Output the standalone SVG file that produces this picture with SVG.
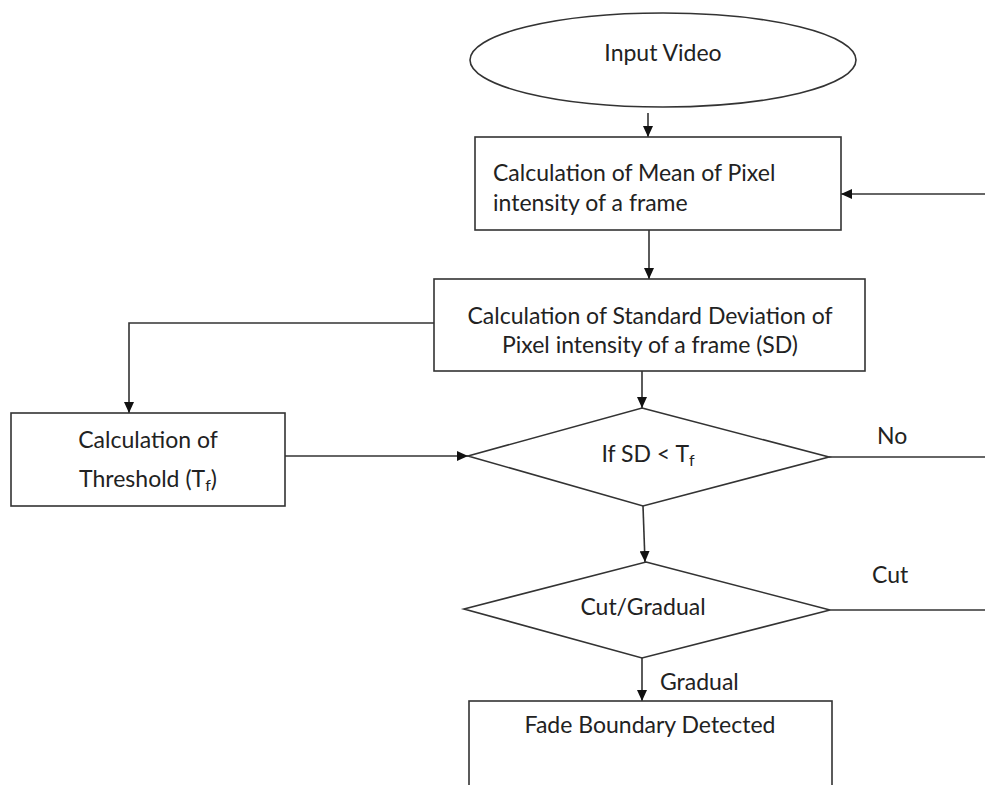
<svg xmlns="http://www.w3.org/2000/svg" width="985" height="785" viewBox="0 0 985 785">
<style>
.shape{fill:#fff;stroke:#333;stroke-width:1.6}
.conn{fill:none;stroke:#333;stroke-width:1.6}
text{font-family:Lato,"Open Sans","Liberation Sans",sans-serif;font-size:23px;fill:#222}
.c{text-anchor:middle}
.sub{font-size:16px}
</style>
<defs>
<marker id="arr" markerUnits="userSpaceOnUse" markerWidth="12" markerHeight="10" refX="11" refY="5" orient="auto">
<path d="M0,0 L11,5 L0,10 z" fill="#111"/>
</marker>
</defs>
<rect width="985" height="785" fill="#fff"/>
<g id="connectors">
<line class="conn" x1="648" y1="113" x2="648" y2="137" marker-end="url(#arr)"/>
<line class="conn" x1="649" y1="230" x2="649" y2="279" marker-end="url(#arr)"/>
<line class="conn" x1="642" y1="371" x2="642" y2="408" marker-end="url(#arr)"/>
<polyline class="conn" points="434,323 129,323 129,413" marker-end="url(#arr)"/>
<line class="conn" x1="285" y1="456" x2="468" y2="456" marker-end="url(#arr)"/>
<line class="conn" x1="643" y1="506" x2="645" y2="562" marker-end="url(#arr)"/>
<line class="conn" x1="829" y1="457" x2="985" y2="457"/>
<line class="conn" x1="830" y1="610" x2="985" y2="610"/>
<line class="conn" x1="642" y1="658" x2="642" y2="701" marker-end="url(#arr)"/>
<line class="conn" x1="985" y1="194" x2="841" y2="194" marker-end="url(#arr)"/>
<text x="877" y="444">No</text>
<text x="872" y="583">Cut</text>
<text x="660" y="690">Gradual</text>
</g>
<g id="input-video">
<ellipse class="shape" cx="663" cy="60" rx="193" ry="47"/>
<text class="c" x="663" y="61">Input Video</text>
</g>
<g id="mean-box">
<rect class="shape" x="475" y="137" width="366" height="93"/>
<text x="493" y="181">Calculation of Mean of Pixel</text>
<text x="493" y="211">intensity of a frame</text>
</g>
<g id="sd-box">
<rect class="shape" x="434" y="279" width="431" height="92"/>
<text class="c" x="650" y="324">Calculation of Standard Deviation of</text>
<text class="c" x="650" y="353">Pixel intensity of a frame (SD)</text>
</g>
<g id="threshold-box">
<rect class="shape" x="11" y="413" width="274" height="93"/>
<text class="c" x="148" y="448">Calculation of</text>
<text class="c" x="148" y="487">Threshold (T<tspan class="sub" dy="4">f</tspan><tspan dy="-4">)</tspan></text>
</g>
<g id="sd-decision">
<polygon class="shape" points="642,408 829,457 643,506 468,456"/>
<text class="c" x="648" y="462">If SD &lt; T<tspan class="sub" dy="4">f</tspan></text>
</g>
<g id="cut-gradual">
<polygon class="shape" points="646,562 830,610 642,658 464,609"/>
<text class="c" x="643" y="615">Cut/Gradual</text>
</g>
<g id="fade-box">
<rect class="shape" x="469" y="701" width="363" height="120"/>
<text class="c" x="650" y="733">Fade Boundary Detected</text>
</g>
</svg>
